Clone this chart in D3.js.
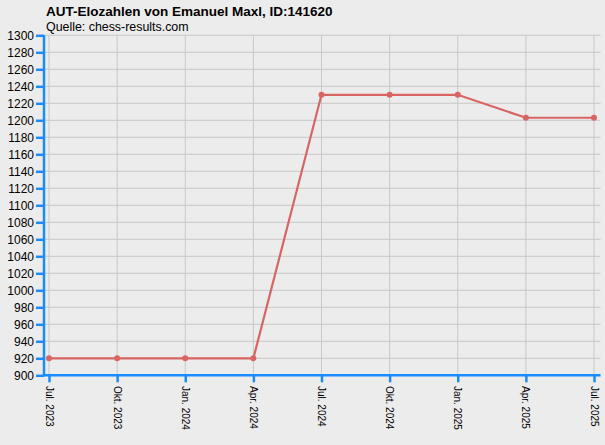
<!DOCTYPE html>
<html>
<head>
<meta charset="utf-8">
<script src="https://cdn.jsdelivr.net/npm/d3@7"></script>
<style>
  html, body { margin: 0; padding: 0; background: #ececec; }
  svg { display: block; font-family: "Liberation Sans", Arial, sans-serif; }
</style>
</head>
<body>
<div id="chart"></div>
<script>
// rating periods and Elo values
var periods = ["Jul. 2023", "Okt. 2023", "Jan. 2024", "Apr. 2024", "Jul. 2024",
               "Okt. 2024", "Jan. 2025", "Apr. 2025", "Jul. 2025"];
var elo = [920, 920, 920, 920, 1230, 1230, 1230, 1203, 1203];
var yTicks = d3.range(900, 1301, 20);

var width = 605,
    height = 445,
    blue = "#1a8cff",
    lineCol = "#d96464";

var svg = d3.select("#chart").append("svg")
    .attr("width", width)
    .attr("height", height);

svg.append("rect")
    .attr("width", width).attr("height", height)
    .attr("fill", "#ececec");

var x = d3.scalePoint().domain(periods).range([49, 594]);
var y = d3.scaleLinear().domain([900, 1300]).range([375.3, 35.3]);

// titles
svg.append("text")
    .attr("x", 46).attr("y", 16)
    .style("font-size", "13.5px").style("font-weight", "bold")
    .attr("fill", "#000")
    .text("AUT-Elozahlen von Emanuel Maxl, ID:141620");
svg.append("text")
    .attr("x", 46).attr("y", 31)
    .style("font-size", "12.4px")
    .attr("fill", "#000")
    .text("Quelle: chess-results.com");

// grid
var grid = svg.append("g").attr("stroke", "#c8c8c8").attr("stroke-width", 1);
grid.selectAll(".hg").data(yTicks).enter().append("line")
    .attr("x1", 44).attr("x2", 600.5)
    .attr("y1", function(d) { return y(d); })
    .attr("y2", function(d) { return y(d); });
grid.selectAll(".vg").data(periods).enter().append("line")
    .attr("x1", function(d) { return x(d); })
    .attr("x2", function(d) { return x(d); })
    .attr("y1", y(1300)).attr("y2", y(900));

// y axis
var yAxis = svg.append("g")
    .attr("transform", "translate(44,0)")
    .call(d3.axisLeft(y).tickValues(yTicks).tickFormat(d3.format("d")).tickSize(8).tickPadding(2));
yAxis.select(".domain").attr("stroke", blue).attr("stroke-width", 2.5)
    .attr("d", "M0," + y(1300) + "V" + (y(900) + 1));
yAxis.selectAll(".tick line").attr("stroke", blue).attr("stroke-width", 2.5);
yAxis.selectAll(".tick text")
    .attr("fill", "#000")
    .style("font-size", "12px")
    .style("font-family", "Liberation Sans, Arial, sans-serif");

// x axis
var xAxis = svg.append("g")
    .attr("transform", "translate(0," + y(900) + ")")
    .call(d3.axisBottom(x).tickSize(7).tickFormat(""));
xAxis.select(".domain").attr("stroke", blue).attr("stroke-width", 2.5)
    .attr("d", "M43,0H600.5");
xAxis.selectAll(".tick line").attr("stroke", blue).attr("stroke-width", 2.5);

svg.append("g").selectAll("text").data(periods).enter().append("text")
    .attr("transform", function(d) { return "translate(" + x(d) + ",386) rotate(90)"; })
    .attr("dy", "0.35em")
    .style("font-size", "10px")
    .attr("fill", "#000")
    .text(function(d) { return d; });

// line and markers
var pts = periods.map(function(p, i) { return [p, elo[i]]; });
var line = d3.line()
    .x(function(d) { return x(d[0]); })
    .y(function(d) { return y(d[1]); });

svg.append("path")
    .datum(pts)
    .attr("d", line)
    .attr("fill", "none")
    .attr("stroke", lineCol)
    .attr("stroke-width", 2.2);

svg.selectAll(".pt").data(pts).enter().append("circle")
    .attr("cx", function(d) { return x(d[0]); })
    .attr("cy", function(d) { return y(d[1]); })
    .attr("r", 3)
    .attr("fill", lineCol);
</script>
</body>
</html>
